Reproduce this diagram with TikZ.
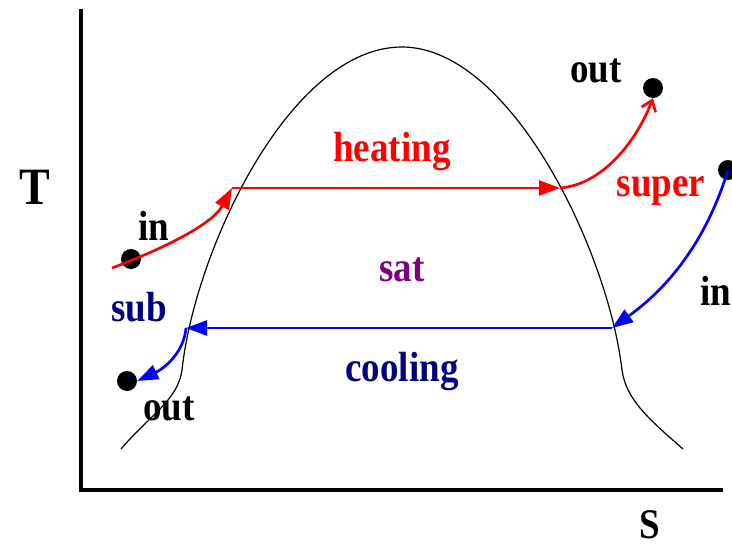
\documentclass[tikz,border=0pt]{standalone}
\usepackage{fontspec}
\setmainfont{Liberation Serif}
\usetikzlibrary{arrows.meta}
\definecolor{navyc}{RGB}{0,0,128}
\definecolor{purplec}{RGB}{128,0,128}
\newcommand{\tall}[1]{\scalebox{1}[1.14]{#1}}
\tikzset{
  lbl/.style={font=\fontsize{37}{37}\selectfont\bfseries, inner sep=0pt},
  dot/.style={circle, fill=black, minimum size=20pt, inner sep=0pt},
  axis/.style={line width=4pt},
  dome/.style={line width=1.2pt},
  redln/.style={draw=red, line width=2.7pt},
  blueln/.style={draw=blue, line width=2.7pt},
  tri/.style={-{Triangle[length=21pt,width=15pt]}},
  barb/.style={-{Straight Barb[length=10pt,width=15pt]}}
}
\begin{document}
\begin{tikzpicture}[x=1pt,y=-1pt]
\useasboundingbox (0,0) rectangle (732,549);
% axes
\coordinate (ytop) at (81,9);
\coordinate (orig) at (81,490);
\coordinate (xend) at (723,490);
\draw[axis] (ytop) -- (orig) -- (xend);
\node[lbl, font=\fontsize{46}{46}\selectfont\bfseries] (T) at (35,187) {\tall{T}};
\node[lbl, font=\fontsize{37}{37}\selectfont\bfseries] (S) at (650,525) {\tall{S}};
% dome
\coordinate (bl) at (121,449);
\coordinate (kl) at (182,370);
\coordinate (peak) at (402,47);
\coordinate (kr) at (622,370);
\coordinate (br) at (683,449);
\draw[dome] (bl) .. controls (150,415) and (178,400) .. (kl)
  .. controls (195,250) and (290,47) .. (peak)
  .. controls (510,47) and (608,250) .. (kr)
  .. controls (626,400) and (650,420) .. (br);
% points
\coordinate (hl) at (232,188);
\coordinate (hr) at (560,188);
\coordinate (cr) at (612,328);
\coordinate (cl) at (186,328);
\coordinate (rstart) at (112,268);
\node[dot] (inL) at (131,259) {};
\node[dot] (outL) at (127,381) {};
\node[dot] (outR) at (653,88) {};
\node[dot] (inR) at (728,170) {};
% heating
\draw[redln, tri] (rstart) .. controls (160,250) and (212,225) .. (hl);
\draw[redln, tri] (hl) -- (hr);
\draw[redln, barb] (hr) .. controls (600,185) and (635,145) .. (outR.south);
% cooling
\draw[blueln, tri] (inR.center) .. controls (705,245) and (665,290) .. (cr);
\draw[blueln, tri] (cr) -- (cl);
\draw[blueln, tri] (cl) .. controls (184,352) and (165,368) .. (outL.east);
% labels
\node[lbl, red] (heating) at (392,152) {\tall{heating}};
\node[lbl, purplec] (sat) at (402,270) {\tall{sat}};
\node[lbl, navyc] (cooling) at (402,372) {\tall{cooling}};
\node[lbl, navyc] (sub) at (139,307) {\tall{sub}};
\node[lbl, red] (super) at (661,191) {\tall{super}};
\node[lbl] (inLt) at (154,226) {\tall{in}};
\node[lbl] (outLt) at (169,409) {\tall{out}};
\node[lbl] (outRt) at (596,71) {\tall{out}};
\node[lbl, anchor=west] (inRt) at (700,291) {\tall{in}};
\end{tikzpicture}
\end{document}
